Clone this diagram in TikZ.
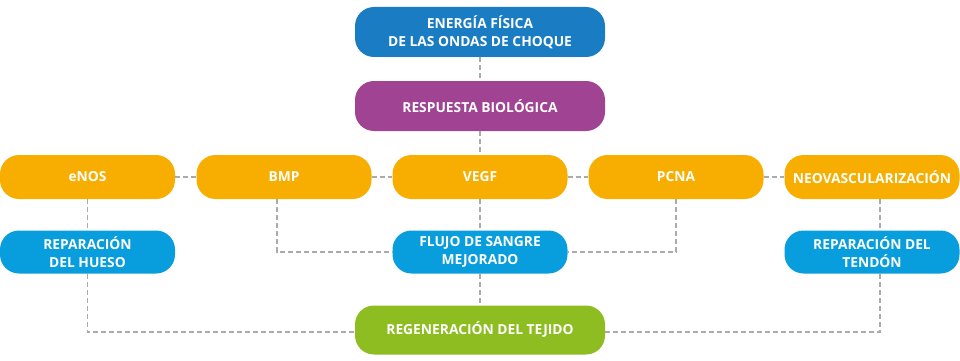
\documentclass[tikz,border=0pt]{standalone}
\usepackage{fontspec}
\setmainfont{Open Sans}
\definecolor{topblue}{HTML}{1A7DC3}
\definecolor{lightblue}{HTML}{089DDC}
\definecolor{bioviolet}{HTML}{9F4392}
\definecolor{factororange}{HTML}{F8AE00}
\definecolor{tissuegreen}{HTML}{8EBD22}
\definecolor{linkgray}{HTML}{ABABAB}
\tikzset{
    box/.style={rounded corners=19pt, text=white, align=center,
        font=\fontsize{13.8}{18}\selectfont\bfseries, inner sep=0pt},
    wide/.style={box, minimum width=250pt, minimum height=50pt},
    narrow/.style={box, minimum width=175pt, minimum height=44pt},
    link/.style={draw=linkgray, line width=1.1pt, dash pattern=on 5pt off 3pt},
}
\begin{document}
\begin{tikzpicture}[x=1pt, y=-1pt]
    \useasboundingbox (0,0) rectangle (960,361);

    % cabeza
    \node[wide, fill=topblue] (energia) at (480, 32) {ENERGÍA FÍSICA\\DE LAS ONDAS DE CHOQUE};
    \node[wide, fill=bioviolet] (respuesta) at (480, 106) {RESPUESTA BIOLÓGICA};

    % factores
    \node[narrow, fill=factororange] (enos) at (87.5, 177) {eNOS};
    \node[narrow, fill=factororange] (bmp) at (284, 177) {BMP};
    \node[narrow, fill=factororange] (vegf) at (480, 177) {VEGF};
    \node[narrow, fill=factororange] (pcna) at (676, 177) {PCNA};
    \node[narrow, fill=factororange] (neo) at (872, 177) {NEOVASCULARIZACIÓN};

    % efectos
    \node[narrow, fill=lightblue, minimum height=43pt] (hueso) at (87.5, 252) {REPARACIÓN\\DEL HUESO};
    \node[narrow, fill=lightblue, minimum height=43pt] (flujo) at (480, 252) {FLUJO DE SANGRE\\MEJORADO};
    \node[narrow, fill=lightblue, minimum height=43pt] (tendon) at (872, 252) {REPARACIÓN DEL\\TENDÓN};

    % resultado
    \node[wide, fill=tissuegreen, minimum height=49pt] (tejido) at (480, 330) {REGENERACIÓN DEL TEJIDO};

    % conexiones
    \draw[link] (energia) -- (respuesta);
    \draw[link] (respuesta) -- (vegf);
    \draw[link] (enos) -- (bmp);
    \draw[link] (bmp) -- (vegf);
    \draw[link] (vegf) -- (pcna);
    \draw[link] (pcna) -- (neo);
    \draw[link] (enos) -- (hueso);
    \draw[link] (vegf) -- (flujo);
    \draw[link] ([xshift=8pt]neo.south) -- ([xshift=8pt]tendon.north);
    \draw[link] (flujo) -- (tejido);
    \draw[link] ([xshift=-7pt]bmp.south) |- (flujo.west);
    \draw[link] (pcna.south) |- (flujo.east);
    \draw[link] (hueso.south) |- ([yshift=-2pt]tejido.west);
    \draw[link] ([xshift=8pt]tendon.south) |- ([yshift=-2pt]tejido.east);
\end{tikzpicture}
\end{document}
